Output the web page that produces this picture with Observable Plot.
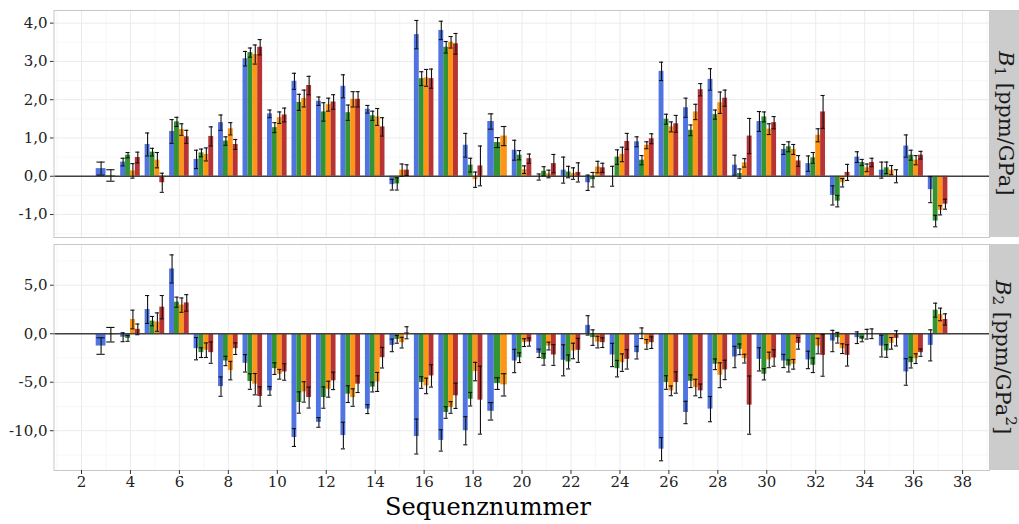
<!DOCTYPE html>
<html>
<head>
<meta charset="utf-8">
<script src="https://cdn.jsdelivr.net/npm/d3@7"></script>
<script src="https://cdn.jsdelivr.net/npm/@observablehq/plot@0.6"></script>
<style>
  html, body { margin: 0; padding: 0; background: #fff; }
  #chart { position: relative; width: 1019px; height: 524px; font-family: "DejaVu Serif", serif; }
  .panel { position: absolute; left: 0; }
  .strip {
    position: absolute; left: 990px; width: 29px; background: #cccccc;
    writing-mode: vertical-rl; display: flex; align-items: center; justify-content: center;
    font-family: "DejaVu Serif", serif; font-size: 21px; color: #1a1a1a; white-space: nowrap;
  }
  .strip sub, .strip sup { font-size: 72%; }
  #xtitle {
    position: absolute; top: 495px; left: 488px; transform: translateX(-50%);
    font-family: "DejaVu Serif", serif; font-size: 24px; line-height: 1; color: #000; white-space: nowrap;
  }
</style>
</head>
<body>
<div id="chart">
  <div id="p1" class="panel" style="top:0"></div>
  <div id="p2" class="panel" style="top:234px"></div>
  <div class="strip" style="top:10px;height:227px"><span><i>B</i><sub>1</sub> [ppm/GPa]</span></div>
  <div class="strip" style="top:244px;height:226px"><span><i>B</i><sub>2</sub> [ppm/GPa<sup>2</sup>]</span></div>
  <div id="xtitle">Sequenznummer</div>
</div>
<script>
// Sequence numbers on the x axis
const seq = [3,4,5,6,7,8,9,10,11,12,13,14,15,16,17,18,19,20,21,22,23,24,25,26,27,28,29,30,31,32,33,34,35,36,37];
const seriesNames = ["Reihe 1", "Reihe 2", "Reihe 3", "Reihe 4"];
const seriesColors = ["#4169e1", "#228b22", "#ff8c00", "#b22222"];
const xTicks = [2,4,6,8,10,12,14,16,18,20,22,24,26,28,30,32,34,36,38];
const xMinor = [1,3,5,7,9,11,13,15,17,19,21,23,25,27,29,31,33,35,37,39];

// B1 [ppm/GPa]: values and error half-widths per series
const b1Blau = [0.20,0.37,0.83,1.17,0.44,1.40,3.07,1.63,2.48,1.96,2.35,1.75,-0.22,3.70,3.81,0.81,1.43,0.68,-0.02,0.16,-0.17,0.00,0.90,2.74,1.79,2.53,0.29,1.43,0.70,0.33,-0.50,0.50,0.16,0.79,-0.35];
const b1BlauErr = [0.17,0.10,0.30,0.31,0.24,0.20,0.19,0.10,0.21,0.11,0.30,0.10,0.14,0.37,0.24,0.31,0.20,0.26,0.08,0.34,0.20,0.26,0.13,0.24,0.25,0.28,0.26,0.26,0.13,0.20,0.25,0.14,0.21,0.29,0.34];
const b1Gruen = [0.02,0.55,0.63,1.42,0.61,0.92,3.23,1.27,1.93,1.68,1.66,1.58,-0.20,2.55,3.37,0.29,0.88,0.55,0.13,0.11,-0.09,0.50,0.42,1.49,1.20,1.61,0.07,1.55,0.77,0.48,-0.65,0.36,0.22,0.55,-1.17];
const b1GruenErr = [0.15,0.07,0.10,0.12,0.10,0.11,0.12,0.13,0.21,0.24,0.20,0.12,0.16,0.18,0.15,0.18,0.13,0.12,0.12,0.15,0.19,0.19,0.12,0.13,0.14,0.12,0.12,0.13,0.13,0.14,0.15,0.08,0.15,0.13,0.15];
const b1Orange = [null,0.14,0.42,1.22,0.57,1.24,3.18,1.53,2.03,1.87,2.01,1.55,0.16,2.57,3.50,-0.09,1.05,0.17,0.06,0.07,0.24,0.57,0.81,1.29,1.68,1.92,0.35,1.23,0.70,1.07,-0.17,0.22,0.16,0.42,-0.89];
const b1OrangeErr = [null,0.19,0.20,0.15,0.17,0.16,0.25,0.15,0.22,0.17,0.20,0.22,0.16,0.22,0.15,0.20,0.25,0.10,0.10,0.15,0.15,0.19,0.09,0.13,0.20,0.28,0.11,0.14,0.13,0.17,0.11,0.10,0.12,0.12,0.12];
const b1Rot = [null,0.49,-0.17,1.03,1.04,0.83,3.37,1.60,2.37,1.94,2.01,1.29,0.16,2.55,3.46,0.27,null,0.46,0.33,0.10,0.22,0.91,0.98,1.37,2.26,2.04,1.05,1.40,0.40,1.68,0.10,0.36,0.00,0.55,-0.73];
const b1RotErr = [null,0.14,0.25,0.17,0.25,0.13,0.20,0.18,0.24,0.19,0.20,0.24,0.14,0.25,0.27,0.52,null,0.12,0.24,0.25,0.12,0.21,0.13,0.22,0.16,0.21,0.46,0.16,0.14,0.43,0.21,0.11,0.17,0.10,0.13];

// B2 [ppm/GPa^2]: values and error half-widths per series
const b2Blau = [-1.27,-0.36,2.50,6.68,-1.54,-5.45,-3.05,-5.89,-10.7,-9.14,-10.5,-7.77,-1.20,-10.6,-11.0,-10.0,-8.0,-2.81,-2.02,-2.74,0.86,-2.19,-1.95,-11.9,-8.12,-7.77,-2.4,-2.64,-2.81,-2.7,-0.75,-0.41,-1.27,-3.94,-1.2];
const b2BlauErr = [0.85,0.46,1.44,1.45,1.15,1.0,0.9,0.45,0.92,0.5,1.37,0.46,0.65,1.8,1.1,1.45,0.9,1.2,0.43,1.6,1.0,1.2,0.65,1.2,1.15,1.3,1.1,1.2,0.68,0.9,1.1,0.6,1.12,1.37,1.6];
const b2Gruen = [-0.10,-0.48,1.30,3.25,-1.95,-2.81,-4.93,-3.60,-7.09,-6.58,-6.23,-5.5,-0.58,-5.03,-8.12,-6.75,-5.14,-2.47,-2.64,-2.91,-0.4,-3.6,0.05,-5.03,-4.9,-3.15,-1.61,-4.18,-3.32,-3.25,-0.41,-0.58,-1.78,-2.98,2.43];
const b2GruenErr = [0.75,0.30,0.48,0.52,0.50,0.48,0.8,0.6,1.1,1.1,0.86,0.5,0.4,0.6,0.6,0.7,0.6,0.5,0.6,0.72,0.8,0.85,0.55,0.7,0.65,0.55,0.55,0.58,0.62,0.75,0.55,0.25,0.65,0.55,0.72];
const b2Orange = [null,1.47,1.20,2.95,-1.70,-3.8,-5.20,-4.18,-6.0,-5.72,-6.58,-4.97,-0.92,-5.38,-7.6,-3.9,-5.27,-0.92,-1.27,-1.78,-0.86,-2.98,-1.1,-5.89,-5.55,-4.28,-2.57,-2.7,-3.15,-1.27,-1.54,-0.05,-0.99,-2.57,1.99];
const b2OrangeErr = [null,0.96,0.95,0.74,0.75,0.95,1.1,0.5,1.05,0.82,0.9,0.98,0.55,0.8,0.6,0.95,1.15,0.4,0.4,0.8,0.6,0.9,0.5,0.5,0.85,1.28,0.45,0.8,0.5,0.8,0.5,0.5,0.6,0.5,0.65];
const b2Rot = [null,0.45,2.74,3.18,-1.95,-1.54,-6.47,-3.94,-6.58,-4.86,-5.2,-2.47,0.1,-4.35,-6.4,-6.85,null,-0.86,-2.19,-1.71,-0.92,-2.64,-0.92,-5.03,-5.89,-3.73,-7.36,-2.5,-0.99,-2.23,-2.23,0.0,-0.48,-1.95,1.47];
const b2RotErr = [null,0.55,1.2,0.85,1.1,0.6,1.0,0.85,1.08,0.9,0.86,1.06,0.62,1.15,1.3,3.5,null,0.42,1.07,1.24,0.5,1.0,0.6,1.1,0.7,1.0,3.0,0.85,0.6,2.15,1.1,0.5,0.78,0.38,0.58];

const b1Ticks = [-1,0,1,2,3,4];
const b1Minor = [-1.5,-0.5,0.5,1.5,2.5,3.5];
const b2Ticks = [-10,-5,0,5];
const b2Minor = [-12.5,-7.5,-2.5,2.5,7.5];

const dodgeWidth = 0.8;

// Dodge the bars of each sequence number; groups with fewer series get wider bars
function buildRows(values, errors) {
  const rows = [];
  seq.forEach((s, i) => {
    const present = seriesNames.map((name, k) => ({name, k})).filter(d => values[d.k][i] != null);
    const n = present.length;
    const w = dodgeWidth / n;
    present.forEach((d, j) => {
      const x1 = s - dodgeWidth / 2 + j * w;
      const v = values[d.k][i];
      const e = errors[d.k][i];
      rows.push({seq: s, series: d.name, value: v, lo: v - e, hi: v + e,
                 x1, x2: x1 + w, cx: x1 + w / 2, c1: x1 + w * 0.08, c2: x1 + w * 0.92});
    });
  });
  return rows;
}

const b1Rows = buildRows([b1Blau, b1Gruen, b1Orange, b1Rot], [b1BlauErr, b1GruenErr, b1OrangeErr, b1RotErr]);
const b2Rows = buildRows([b2Blau, b2Gruen, b2Orange, b2Rot], [b2BlauErr, b2GruenErr, b2OrangeErr, b2RotErr]);

const fmt = d => d.toFixed(1).replace(".", ",");

function panel({rows, yDomain, yTicks, yMinor, height, marginBottom, showX}) {
  const marks = [
    Plot.ruleY(yMinor, {stroke: "#f4f4f4", strokeWidth: 0.7}),
    Plot.ruleX(xMinor, {stroke: "#f4f4f4", strokeWidth: 0.7}),
    Plot.ruleY(yTicks, {stroke: "#ebebeb", strokeWidth: 1}),
    Plot.ruleX(xTicks, {stroke: "#ebebeb", strokeWidth: 1}),
    Plot.rectY(rows, {x1: "x1", x2: "x2", y1: 0, y2: "value", fill: "series", fillOpacity: 0.92, inset: 0}),
    Plot.ruleY([0], {stroke: "#404040", strokeWidth: 1.3}),
    Plot.ruleX(rows, {x: "cx", y1: "lo", y2: "hi", stroke: "#111", strokeWidth: 1.1}),
    Plot.ruleY(rows, {y: "lo", x1: "c1", x2: "c2", stroke: "#111", strokeWidth: 1.1}),
    Plot.ruleY(rows, {y: "hi", x1: "c1", x2: "c2", stroke: "#111", strokeWidth: 1.1}),
    Plot.frame({stroke: "#c8c8c8", strokeWidth: 1}),
    Plot.axisY(yTicks, {tickSize: 3.5, tickPadding: 3, tickFormat: fmt, fontSize: 15, stroke: "#333", fill: "#222", label: null})
  ];
  if (showX) {
    marks.push(Plot.axisX(xTicks, {tickSize: 4, tickPadding: 2, tickFormat: d => String(d), fontSize: 15, stroke: "#333", fill: "#222", label: null}));
  }
  return Plot.plot({
    width: 1019,
    height,
    marginTop: 10,
    marginBottom,
    marginLeft: 53.5,
    marginRight: 30,
    style: {fontFamily: "DejaVu Serif, serif", background: "transparent", overflow: "visible"},
    x: {domain: [0.876, 39.1], axis: null},
    y: {domain: yDomain, axis: null},
    color: {domain: seriesNames, range: seriesColors},
    marks
  });
}

document.getElementById("p1").append(panel({
  rows: b1Rows, yDomain: [-1.6, 4.33], yTicks: b1Ticks, yMinor: b1Minor,
  height: 240, marginBottom: 3, showX: false
}));
document.getElementById("p2").append(panel({
  rows: b2Rows, yDomain: [-14.1, 9.2], yTicks: b2Ticks, yMinor: b2Minor,
  height: 290, marginBottom: 54, showX: true
}));
</script>
</body>
</html>
